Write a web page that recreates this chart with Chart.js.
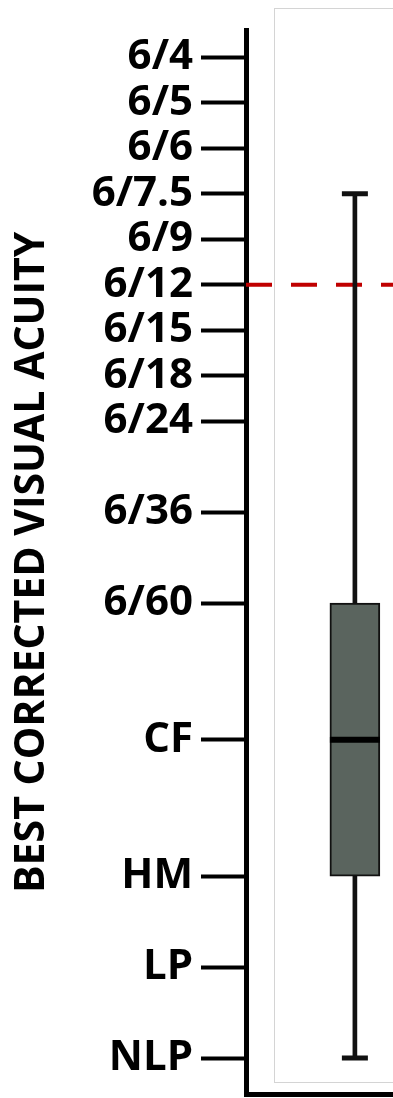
<!DOCTYPE html>
<html lang="en">
  <head>
    <meta charset="UTF-8" />
    <title>Best corrected visual acuity</title>
    <script src="https://cdn.jsdelivr.net/npm/chart.js"></script>
    <style>
      body {
        margin: 0;
        background: #fff;
      }
      .chart-wrap {
        width: 393px;
        height: 1098px;
      }
    </style>
  </head>
  <body>
    <div class="chart-wrap">
      <canvas id="bcva-chart"></canvas>
    </div>

    <script>
      // Snellen grades and their logMAR positions on the axis
      const acuityLabels = ["6/4", "6/5", "6/6", "6/7.5", "6/9", "6/12", "6/15", "6/18", "6/24", "6/36", "6/60", "CF", "HM", "LP", "NLP"];
      const acuityLogMAR = [-0.2, -0.1, 0, 0.1, 0.2, 0.3, 0.4, 0.5, 0.6, 0.8, 1.0, 1.3, 1.6, 1.8, 2.0];

      // box plot summary (logMAR), one group
      const groupX = [1];
      const bcvaMin = [0.1];
      const bcvaQ1 = [1.0];
      const bcvaMedian = [1.3];
      const bcvaQ3 = [1.6];
      const bcvaMax = [2.0];

      // 6/12 cut-off
      const cutoffLogMAR = 0.3;

      Chart.defaults.font.family = "'Open Sans', sans-serif";
      Chart.defaults.color = "#000";

      // light grey frame around the plot panel
      const plotFrame = {
        id: "plotFrame",
        beforeDatasetsDraw(chart, args, opts) {
          const { ctx, scales } = chart;
          const l = Math.round(scales.x.getPixelForValue(opts.xMin)) + 0.5;
          const t = Math.round(scales.y.getPixelForValue(opts.yMin)) + 0.5;
          const b = Math.round(scales.y.getPixelForValue(opts.yMax)) + 0.5;
          ctx.save();
          ctx.strokeStyle = opts.color;
          ctx.lineWidth = 1;
          ctx.strokeRect(l, t, chart.width + 10 - l, b - t);
          ctx.restore();
        },
      };

      const pts = (vals) => groupX.map((x, i) => ({ x: x, y: vals[i] }));

      // no label overhang padding, the axes sit exactly where set
      const noPad = (s) => {
        s.paddingTop = 0;
        s.paddingBottom = 0;
        s.paddingLeft = 0;
        s.paddingRight = 0;
      };

      new Chart(document.getElementById("bcva-chart"), {
        type: "bar",
        data: {
          datasets: [
            {
              type: "scatter",
              label: "median",
              data: pts(bcvaMedian),
              pointStyle: "line",
              pointRadius: 25,
              borderWidth: 6,
              borderColor: "#000",
              order: 0,
            },
            {
              type: "scatter",
              label: "caps",
              data: pts(bcvaMin).concat(pts(bcvaMax)),
              pointStyle: "line",
              pointRadius: 13,
              borderWidth: 5,
              borderColor: "#111",
              order: 0,
            },
            {
              label: "IQR",
              data: groupX.map((x, i) => ({ x: x, y: [bcvaQ1[i], bcvaQ3[i]] })),
              backgroundColor: "#5a645e",
              borderColor: "#111",
              borderWidth: 2,
              borderSkipped: false,
              barThickness: 50,
              grouped: false,
              order: 1,
            },
            {
              label: "range",
              data: groupX.map((x, i) => ({ x: x, y: [bcvaMin[i], bcvaMax[i]] })),
              backgroundColor: "#111",
              borderWidth: 0,
              barThickness: 4,
              grouped: false,
              order: 2,
            },
            {
              type: "line",
              label: "6/12",
              data: [
                { x: 0, y: cutoffLogMAR },
                { x: 1.35, y: cutoffLogMAR },
              ],
              borderColor: "#c00000",
              borderWidth: 4,
              borderDash: [26, 19],
              pointRadius: 0,
              order: 3,
            },
          ],
        },
        options: {
          responsive: true,
          maintainAspectRatio: false,
          animation: false,
          events: [],
          layout: { autoPadding: false, padding: { top: 30, left: 0, right: 0, bottom: 0 } },
          plugins: {
            legend: { display: false },
            tooltip: { enabled: false },
            plotFrame: { xMin: 0.26, yMin: -0.308, yMax: 2.053, color: "#d4d4d4" },
          },
          scales: {
            x: {
              type: "linear",
              min: 0,
              max: 1.35,
              offset: false,
              grid: { display: false },
              ticks: { display: false },
              border: { color: "#000", width: 5 },
              afterFit: (s) => {
                noPad(s);
                s.height = 3.5;
              },
            },
            y: {
              type: "linear",
              reverse: true,
              min: -0.26,
              max: 2.08,
              afterBuildTicks: (s) => {
                s.ticks = acuityLogMAR.map((v) => ({ value: v }));
              },
              afterFit: (s) => {
                noPad(s);
                s.width = 246;
              },
              ticks: {
                autoSkip: false,
                padding: 8,
                font: { size: 42, weight: "bold", lineHeight: 1 },
                callback: (v, i) => acuityLabels[i],
              },
              grid: {
                drawOnChartArea: false,
                tickLength: 45,
                tickWidth: 4,
                tickColor: "#000",
              },
              border: { color: "#000", width: 5 },
              title: {
                display: true,
                text: "BEST CORRECTED VISUAL ACUITY",
                font: { size: 41, weight: "bold", lineHeight: 1.2 },
                padding: { top: 8, bottom: 0 },
              },
            },
          },
        },
        plugins: [plotFrame],
      });
    </script>
  </body>
</html>
